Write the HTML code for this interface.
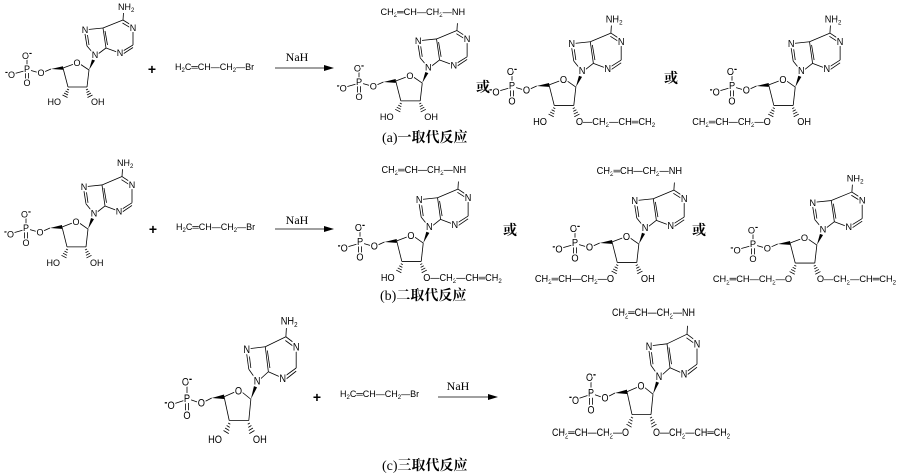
<!DOCTYPE html>
<html><head><meta charset="utf-8">
<style>
html,body{margin:0;padding:0;background:#fff;}
svg{display:block;}
.t{font-family:"Liberation Sans",sans-serif;font-size:9px;fill:#000;}
.h{paint-order:stroke;stroke:#fff;stroke-width:2.5px;}
.s{font-size:6px;}
.lab{font-family:"Liberation Serif","Noto Serif CJK SC",serif;font-size:14px;font-weight:bold;fill:#000;}
.nah{font-family:"Liberation Serif",serif;font-size:12px;fill:#000;}
.or{font-family:"Liberation Serif","Noto Serif CJK SC",serif;font-size:14px;font-weight:bold;fill:#000;}
</style></head>
<body>
<svg width="900" height="473" viewBox="0 0 900 473" xmlns="http://www.w3.org/2000/svg">
<defs>
<g id="sk" stroke="#000" stroke-width="0.8" fill="none">
  <line x1="0" y1="-3" x2="0" y2="-10" vector-effect="non-scaling-stroke"/>
  <line x1="-3" y1="2" x2="-14" y2="5" vector-effect="non-scaling-stroke"/>
  <line x1="-1.4" y1="4" x2="-1.4" y2="10" vector-effect="non-scaling-stroke"/>
  <line x1="1.4" y1="4" x2="1.4" y2="10" vector-effect="non-scaling-stroke"/>
  <line x1="4" y1="1.5" x2="11" y2="3.5" vector-effect="non-scaling-stroke"/>
  <line x1="17" y1="3" x2="24" y2="0" vector-effect="non-scaling-stroke"/>
  <line x1="36" y1="-1" x2="47" y2="-5" vector-effect="non-scaling-stroke"/>
  <line x1="53" y1="-5" x2="62" y2="1" vector-effect="non-scaling-stroke"/>
  <line x1="62" y1="1" x2="60" y2="18" vector-effect="non-scaling-stroke"/>
  <line x1="60" y1="18" x2="41" y2="18" vector-effect="non-scaling-stroke"/>
  <line x1="41" y1="18" x2="36" y2="-1" vector-effect="non-scaling-stroke"/>
  <line x1="66" y1="-16" x2="60" y2="-23" vector-effect="non-scaling-stroke"/>
  <line x1="60" y1="-23" x2="58" y2="-35" vector-effect="non-scaling-stroke"/>
  <line x1="62" y1="-24" x2="60.5" y2="-34" vector-effect="non-scaling-stroke"/>
  <line x1="61" y1="-39.5" x2="76" y2="-41" vector-effect="non-scaling-stroke"/>
  <line x1="76" y1="-41" x2="79" y2="-21" vector-effect="non-scaling-stroke"/>
  <line x1="78" y1="-38" x2="80.5" y2="-24" vector-effect="non-scaling-stroke"/>
  <line x1="79" y1="-21" x2="71" y2="-15" vector-effect="non-scaling-stroke"/>
  <line x1="79" y1="-21" x2="90" y2="-17" vector-effect="non-scaling-stroke"/>
  <line x1="96" y1="-18" x2="106" y2="-24" vector-effect="non-scaling-stroke"/>
  <line x1="96" y1="-15" x2="106" y2="-21.5" vector-effect="non-scaling-stroke"/>
  <line x1="106" y1="-24" x2="106" y2="-37" vector-effect="non-scaling-stroke"/>
  <line x1="104" y1="-44" x2="96" y2="-49" vector-effect="non-scaling-stroke"/>
  <line x1="103" y1="-41.5" x2="95.5" y2="-46" vector-effect="non-scaling-stroke"/>
  <line x1="96" y1="-49" x2="76" y2="-41" vector-effect="non-scaling-stroke"/>
  <line x1="96" y1="-49" x2="96.5" y2="-56" vector-effect="non-scaling-stroke"/>
  <g vector-effect="non-scaling-stroke">
   <line x1="40" y1="20" x2="42" y2="21" vector-effect="non-scaling-stroke"/>
   <line x1="38.5" y1="22" x2="41.5" y2="23.5" vector-effect="non-scaling-stroke"/>
   <line x1="37" y1="24" x2="41" y2="26" vector-effect="non-scaling-stroke"/>
   <line x1="35.5" y1="26" x2="40.5" y2="28.5" vector-effect="non-scaling-stroke"/>
   <line x1="61" y1="20" x2="59" y2="21" vector-effect="non-scaling-stroke"/>
   <line x1="62.5" y1="22" x2="59.5" y2="23.5" vector-effect="non-scaling-stroke"/>
   <line x1="64" y1="24" x2="60" y2="26" vector-effect="non-scaling-stroke"/>
   <line x1="65.5" y1="26" x2="60.5" y2="28.5" vector-effect="non-scaling-stroke"/>
  </g>
</g>
<g id="wd" fill="#000" stroke="none">
  <polygon points="24,0 36,-2.8 36,0.8"/>
  <polygon points="62,1 65,-9.5 68,-8.5"/>
</g>
</defs>

<!-- ===== Molecule template instances ===== -->
<!-- a1 -->
<g transform="translate(27,69)">
 <use href="#sk"/><use href="#wd"/>
 <g class="t h">
  <text x="0" y="3" text-anchor="middle">P</text>
  <text x="0" y="-10" text-anchor="middle">O<tspan dy="-3" font-weight="bold">-</tspan></text>
  <text x="-17" y="9" text-anchor="middle"><tspan dy="-3" font-weight="bold">-</tspan><tspan dy="3">O</tspan></text>
  <text x="0" y="17" text-anchor="middle">O</text>
  <text x="14" y="7" text-anchor="middle">O</text>
  <text x="50" y="-3" text-anchor="middle">O</text>
  <text x="68" y="-11" text-anchor="middle">N</text>
  <text x="58" y="-36" text-anchor="middle">N</text>
  <text x="93" y="-13" text-anchor="middle">N</text>
  <text x="106" y="-38" text-anchor="middle">N</text>
  <text x="91" y="-59">NH<tspan class="s" dy="2">2</tspan></text>
  <text x="34" y="36" text-anchor="end">HO</text>
  <text x="64" y="36">OH</text>
 </g>
</g>
<!-- b1 -->
<g transform="translate(26,228) scale(1,1.05)">
 <use href="#sk"/><use href="#wd"/>
 <g class="t h">
  <text x="0" y="3" text-anchor="middle">P</text>
  <text x="0" y="-10" text-anchor="middle">O<tspan dy="-3" font-weight="bold">-</tspan></text>
  <text x="-17" y="9" text-anchor="middle"><tspan dy="-3" font-weight="bold">-</tspan><tspan dy="3">O</tspan></text>
  <text x="0" y="17" text-anchor="middle">O</text>
  <text x="14" y="7" text-anchor="middle">O</text>
  <text x="50" y="-3" text-anchor="middle">O</text>
  <text x="68" y="-11" text-anchor="middle">N</text>
  <text x="58" y="-36" text-anchor="middle">N</text>
  <text x="93" y="-13" text-anchor="middle">N</text>
  <text x="106" y="-38" text-anchor="middle">N</text>
  <text x="91" y="-59">NH<tspan class="s" dy="2">2</tspan></text>
  <text x="34" y="36" text-anchor="end">HO</text>
  <text x="64" y="36">OH</text>
 </g>
</g>
<!-- c1 -->
<g transform="translate(187,398) scale(1.03,1.25)">
 <use href="#sk"/><use href="#wd"/>
 <g class="t h">
  <text x="0" y="3" text-anchor="middle">P</text>
  <text x="0" y="-10" text-anchor="middle">O<tspan dy="-3" font-weight="bold">-</tspan></text>
  <text x="-17" y="9" text-anchor="middle"><tspan dy="-3" font-weight="bold">-</tspan><tspan dy="3">O</tspan></text>
  <text x="0" y="17" text-anchor="middle">O</text>
  <text x="14" y="7" text-anchor="middle">O</text>
  <text x="50" y="-3" text-anchor="middle">O</text>
  <text x="68" y="-11" text-anchor="middle">N</text>
  <text x="58" y="-36" text-anchor="middle">N</text>
  <text x="93" y="-13" text-anchor="middle">N</text>
  <text x="106" y="-38" text-anchor="middle">N</text>
  <text x="91" y="-59">NH<tspan class="s" dy="2">2</tspan></text>
  <text x="34" y="36" text-anchor="end">HO</text>
  <text x="64" y="36">OH</text>
 </g>
</g>
<!-- a2 -->
<g transform="translate(359,82) scale(1.02,1.05)">
 <use href="#sk"/><use href="#wd"/>
 <g class="t h">
  <text x="0" y="3" text-anchor="middle">P</text>
  <text x="0" y="-10" text-anchor="middle">O<tspan dy="-3" font-weight="bold">-</tspan></text>
  <text x="-17" y="9" text-anchor="middle"><tspan dy="-3" font-weight="bold">-</tspan><tspan dy="3">O</tspan></text>
  <text x="0" y="17" text-anchor="middle">O</text>
  <text x="14" y="7" text-anchor="middle">O</text>
  <text x="50" y="-3" text-anchor="middle">O</text>
  <text x="68" y="-11" text-anchor="middle">N</text>
  <text x="58" y="-36" text-anchor="middle">N</text>
  <text x="93" y="-13" text-anchor="middle">N</text>
  <text x="106" y="-38" text-anchor="middle">N</text>
  <text x="104" y="-64" text-anchor="end">CH<tspan class="s" dy="2">2</tspan><tspan dy="-2">═CH—CH</tspan><tspan class="s" dy="2">2</tspan><tspan dy="-2">—NH</tspan></text>
  <text x="34" y="36" text-anchor="end">HO</text>
  <text x="64" y="36">OH</text>
 </g>
</g>
<!-- a3 -->
<g transform="translate(512,86) scale(1.03,1.08)">
 <use href="#sk"/><use href="#wd"/>
 <g class="t h">
  <text x="0" y="3" text-anchor="middle">P</text>
  <text x="0" y="-10" text-anchor="middle">O<tspan dy="-3" font-weight="bold">-</tspan></text>
  <text x="-17" y="9" text-anchor="middle"><tspan dy="-3" font-weight="bold">-</tspan><tspan dy="3">O</tspan></text>
  <text x="0" y="17" text-anchor="middle">O</text>
  <text x="14" y="7" text-anchor="middle">O</text>
  <text x="50" y="-3" text-anchor="middle">O</text>
  <text x="68" y="-11" text-anchor="middle">N</text>
  <text x="58" y="-36" text-anchor="middle">N</text>
  <text x="93" y="-13" text-anchor="middle">N</text>
  <text x="106" y="-38" text-anchor="middle">N</text>
  <text x="91" y="-59">NH<tspan class="s" dy="2">2</tspan></text>
  <text x="34" y="36" text-anchor="end">HO</text>
  <text x="62" y="36">O—CH<tspan class="s" dy="2">2</tspan><tspan dy="-2">—CH═CH</tspan><tspan class="s" dy="2">2</tspan></text>
 </g>
</g>
<!-- a4 -->
<g transform="translate(732,86) scale(1.02,1.08)">
 <use href="#sk"/><use href="#wd"/>
 <g class="t h">
  <text x="0" y="3" text-anchor="middle">P</text>
  <text x="0" y="-10" text-anchor="middle">O<tspan dy="-3" font-weight="bold">-</tspan></text>
  <text x="-17" y="9" text-anchor="middle"><tspan dy="-3" font-weight="bold">-</tspan><tspan dy="3">O</tspan></text>
  <text x="0" y="17" text-anchor="middle">O</text>
  <text x="14" y="7" text-anchor="middle">O</text>
  <text x="50" y="-3" text-anchor="middle">O</text>
  <text x="68" y="-11" text-anchor="middle">N</text>
  <text x="58" y="-36" text-anchor="middle">N</text>
  <text x="93" y="-13" text-anchor="middle">N</text>
  <text x="106" y="-38" text-anchor="middle">N</text>
  <text x="91" y="-59">NH<tspan class="s" dy="2">2</tspan></text>
  <text x="38" y="36" text-anchor="end">CH<tspan class="s" dy="2">2</tspan><tspan dy="-2">═CH—CH</tspan><tspan class="s" dy="2">2</tspan><tspan dy="-2">—O</tspan></text>
  <text x="64" y="36">OH</text>
 </g>
</g>
<!-- b2 -->
<g transform="translate(360,242) scale(1.02,1.08)">
 <use href="#sk"/><use href="#wd"/>
 <g class="t h">
  <text x="0" y="3" text-anchor="middle">P</text>
  <text x="0" y="-10" text-anchor="middle">O<tspan dy="-3" font-weight="bold">-</tspan></text>
  <text x="-17" y="9" text-anchor="middle"><tspan dy="-3" font-weight="bold">-</tspan><tspan dy="3">O</tspan></text>
  <text x="0" y="17" text-anchor="middle">O</text>
  <text x="14" y="7" text-anchor="middle">O</text>
  <text x="50" y="-3" text-anchor="middle">O</text>
  <text x="68" y="-11" text-anchor="middle">N</text>
  <text x="58" y="-36" text-anchor="middle">N</text>
  <text x="93" y="-13" text-anchor="middle">N</text>
  <text x="106" y="-38" text-anchor="middle">N</text>
  <text x="104" y="-64" text-anchor="end">CH<tspan class="s" dy="2">2</tspan><tspan dy="-2">═CH—CH</tspan><tspan class="s" dy="2">2</tspan><tspan dy="-2">—NH</tspan></text>
  <text x="34" y="36" text-anchor="end">HO</text>
  <text x="62" y="36">O—CH<tspan class="s" dy="2">2</tspan><tspan dy="-2">—CH═CH</tspan><tspan class="s" dy="2">2</tspan></text>
 </g>
</g>
<!-- b3 -->
<g transform="translate(575,243) scale(1.03,1.08)">
 <use href="#sk"/><use href="#wd"/>
 <g class="t h">
  <text x="0" y="3" text-anchor="middle">P</text>
  <text x="0" y="-10" text-anchor="middle">O<tspan dy="-3" font-weight="bold">-</tspan></text>
  <text x="-17" y="9" text-anchor="middle"><tspan dy="-3" font-weight="bold">-</tspan><tspan dy="3">O</tspan></text>
  <text x="0" y="17" text-anchor="middle">O</text>
  <text x="14" y="7" text-anchor="middle">O</text>
  <text x="50" y="-3" text-anchor="middle">O</text>
  <text x="68" y="-11" text-anchor="middle">N</text>
  <text x="58" y="-36" text-anchor="middle">N</text>
  <text x="93" y="-13" text-anchor="middle">N</text>
  <text x="106" y="-38" text-anchor="middle">N</text>
  <text x="104" y="-64" text-anchor="end">CH<tspan class="s" dy="2">2</tspan><tspan dy="-2">═CH—CH</tspan><tspan class="s" dy="2">2</tspan><tspan dy="-2">—NH</tspan></text>
  <text x="38" y="36" text-anchor="end">CH<tspan class="s" dy="2">2</tspan><tspan dy="-2">═CH—CH</tspan><tspan class="s" dy="2">2</tspan><tspan dy="-2">—O</tspan></text>
  <text x="64" y="36">OH</text>
 </g>
</g>
<!-- b4 -->
<g transform="translate(753,244) scale(1.03,1.06)">
 <use href="#sk"/><use href="#wd"/>
 <g class="t h">
  <text x="0" y="3" text-anchor="middle">P</text>
  <text x="0" y="-10" text-anchor="middle">O<tspan dy="-3" font-weight="bold">-</tspan></text>
  <text x="-17" y="9" text-anchor="middle"><tspan dy="-3" font-weight="bold">-</tspan><tspan dy="3">O</tspan></text>
  <text x="0" y="17" text-anchor="middle">O</text>
  <text x="14" y="7" text-anchor="middle">O</text>
  <text x="50" y="-3" text-anchor="middle">O</text>
  <text x="68" y="-11" text-anchor="middle">N</text>
  <text x="58" y="-36" text-anchor="middle">N</text>
  <text x="93" y="-13" text-anchor="middle">N</text>
  <text x="106" y="-38" text-anchor="middle">N</text>
  <text x="91" y="-59">NH<tspan class="s" dy="2">2</tspan></text>
  <text x="38" y="36" text-anchor="end">CH<tspan class="s" dy="2">2</tspan><tspan dy="-2">═CH—CH</tspan><tspan class="s" dy="2">2</tspan><tspan dy="-2">—O</tspan></text>
  <text x="62" y="36">O—CH<tspan class="s" dy="2">2</tspan><tspan dy="-2">—CH═CH</tspan><tspan class="s" dy="2">2</tspan></text>
 </g>
</g>
<!-- c2 -->
<g transform="translate(591,393) scale(1.0,1.2)">
 <use href="#sk"/><use href="#wd"/>
 <g class="t h">
  <text x="0" y="3" text-anchor="middle">P</text>
  <text x="0" y="-10" text-anchor="middle">O<tspan dy="-3" font-weight="bold">-</tspan></text>
  <text x="-17" y="9" text-anchor="middle"><tspan dy="-3" font-weight="bold">-</tspan><tspan dy="3">O</tspan></text>
  <text x="0" y="17" text-anchor="middle">O</text>
  <text x="14" y="7" text-anchor="middle">O</text>
  <text x="50" y="-3" text-anchor="middle">O</text>
  <text x="68" y="-11" text-anchor="middle">N</text>
  <text x="58" y="-36" text-anchor="middle">N</text>
  <text x="93" y="-13" text-anchor="middle">N</text>
  <text x="106" y="-38" text-anchor="middle">N</text>
  <text x="104" y="-64" text-anchor="end">CH<tspan class="s" dy="2">2</tspan><tspan dy="-2">═CH—CH</tspan><tspan class="s" dy="2">2</tspan><tspan dy="-2">—NH</tspan></text>
  <text x="38" y="36" text-anchor="end">CH<tspan class="s" dy="2">2</tspan><tspan dy="-2">═CH—CH</tspan><tspan class="s" dy="2">2</tspan><tspan dy="-2">—O</tspan></text>
  <text x="62" y="36">O—CH<tspan class="s" dy="2">2</tspan><tspan dy="-2">—CH═CH</tspan><tspan class="s" dy="2">2</tspan></text>
 </g>
</g>

<!-- ===== plus, reagents, arrows ===== -->
<g font-family="Liberation Sans,sans-serif" font-size="14" font-weight="bold">
 <text x="152" y="74" text-anchor="middle">+</text>
 <text x="153" y="234" text-anchor="middle">+</text>
 <text x="317" y="402" text-anchor="middle">+</text>
</g>
<g class="t">
 <text x="175" y="70">H<tspan class="s" dy="2">2</tspan><tspan dy="-2">C═CH—CH</tspan><tspan class="s" dy="2">2</tspan><tspan dy="-2">—Br</tspan></text>
 <text x="176" y="230">H<tspan class="s" dy="2">2</tspan><tspan dy="-2">C═CH—CH</tspan><tspan class="s" dy="2">2</tspan><tspan dy="-2">—Br</tspan></text>
 <text x="340" y="397">H<tspan class="s" dy="2">2</tspan><tspan dy="-2">C═CH—CH</tspan><tspan class="s" dy="2">2</tspan><tspan dy="-2">—Br</tspan></text>
</g>
<g class="nah">
 <text x="297" y="61" text-anchor="middle">NaH</text>
 <text x="297" y="224" text-anchor="middle">NaH</text>
 <text x="458" y="390" text-anchor="middle">NaH</text>
</g>
<g stroke="#000" stroke-width="0.8">
 <line x1="275" y1="68" x2="326" y2="68"/>
 <line x1="275" y1="229" x2="326" y2="229"/>
 <line x1="438" y1="397" x2="490" y2="397"/>
</g>
<g fill="#000">
 <polygon points="334,68 324,65 324,71"/>
 <polygon points="334,229 324,226 324,232"/>
 <polygon points="498,397 488,394 488,400"/>
</g>

<!-- 或 -->
<g class="or">
 <text x="483" y="92" text-anchor="middle">或</text>
 <text x="671" y="83" text-anchor="middle">或</text>
 <text x="510" y="235" text-anchor="middle">或</text>
 <text x="699" y="235" text-anchor="middle">或</text>
</g>

<!-- labels -->
<g class="lab">
 <text x="382" y="142"><tspan font-weight="normal">(a)</tspan>一取代反应</text>
 <text x="380" y="300"><tspan font-weight="normal">(b)</tspan>二取代反应</text>
 <text x="382" y="470"><tspan font-weight="normal">(c)</tspan>三取代反应</text>
</g>
</svg>
</body></html>
